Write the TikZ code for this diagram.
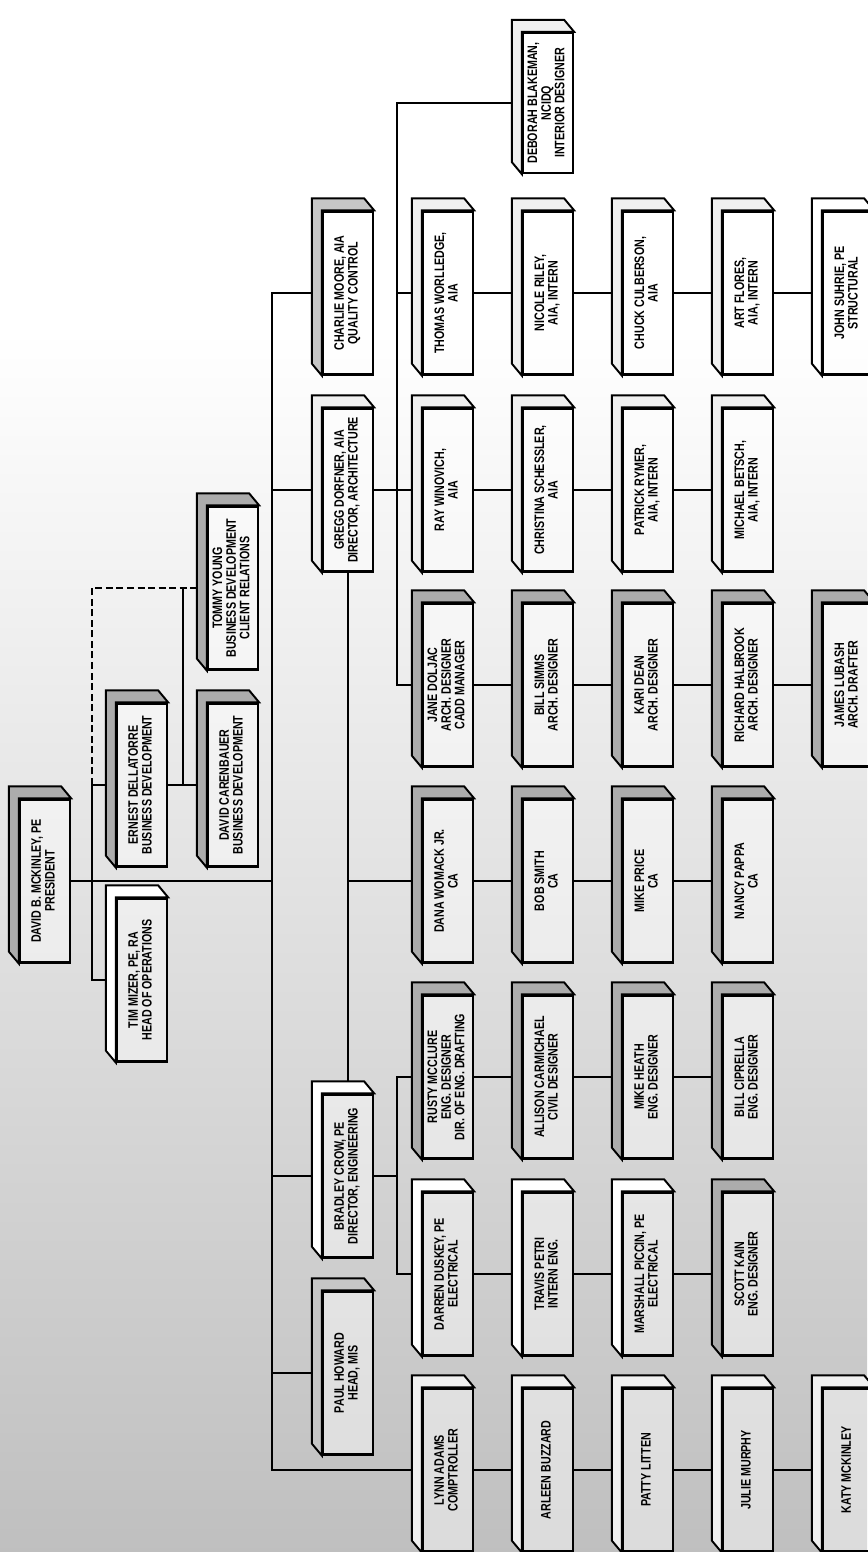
\documentclass[tikz,border=0pt]{standalone}
\usepackage{fontspec}
\setmainfont{Liberation Sans}[FakeStretch=0.78]
\usepackage{graphicx}
\usetikzlibrary{backgrounds}

\colorlet{scuro}{gray!65}
\colorlet{medio}{gray!45}
\colorlet{chiaro}{gray!12}

% testo ruotato nelle caselle
\newcommand{\testo}[1]{\rotatebox{90}{\begin{tabular}{@{}c@{}}#1\end{tabular}}}

\begin{document}
\begin{tikzpicture}[x = 0.2mm, y = -0.2mm,
    persona/.style = {draw, line width=1.3pt, fill=white, fill opacity=0.45, text opacity=1,
        minimum width=1cm, minimum height=3.26cm, inner sep=0pt,
        font=\fontsize{7.8}{7.6}\selectfont\bfseries},
    linea/.style = {line width=1.1pt},
    tratteggio/.style = {line width=0.9pt, dash pattern=on 4pt off 2pt},
    fianco/.style = {line width=1.1pt}]

    % Sfondo
    \useasboundingbox (0,0) rectangle (867,1552);

    % Vertice
    \node[persona] (mckinley) at (45,881) {\testo{DAVID B. MCKINLEY, PE\\PRESIDENT}};
    \node[persona] (mizer) at (142,980) {\testo{TIM MIZER, PE, RA\\HEAD OF OPERATIONS}};
    \node[persona] (dellatorre) at (142,785) {\testo{ERNEST DELLATORRE\\BUSINESS DEVELOPMENT}};
    \node[persona] (carenbauer) at (233,785) {\testo{DAVID CARENBAUER\\BUSINESS DEVELOPMENT}};
    \node[persona] (young) at (233,588) {\testo{TOMMY YOUNG\\BUSINESS DEVELOPMENT\\CLIENT RELATIONS}};

    % Direttori
    \node[persona] (moore) at (348,293) {\testo{CHARLIE MOORE, AIA\\QUALITY CONTROL}};
    \node[persona] (dorfner) at (348,490) {\testo{GREGG DORFNER, AIA\\DIRECTOR, ARCHITECTURE}};
    \node[persona] (crow) at (348,1176) {\testo{BRADLEY CROW, PE\\DIRECTOR, ENGINEERING}};
    \node[persona] (howard) at (348,1373) {\testo{PAUL HOWARD\\HEAD, MIS}};

    % Architettura
    \node[persona, minimum height=2.8cm] (blakeman) at (548,103) {\testo{DEBORAH BLAKEMAN,\\NCIDQ\\INTERIOR DESIGNER}};
    \node[persona] (worlledge) at (448,293) {\testo{THOMAS WORLLEDGE,\\AIA}};
    \node[persona] (riley) at (548,293) {\testo{NICOLE RILEY,\\AIA, INTERN}};
    \node[persona] (culberson) at (648,293) {\testo{CHUCK CULBERSON,\\AIA}};
    \node[persona] (flores) at (748,293) {\testo{ART FLORES,\\AIA, INTERN}};
    \node[persona] (suhrie) at (848,293) {\testo{JOHN SUHRIE, PE\\STRUCTURAL}};
    \node[persona] (winovich) at (448,490) {\testo{RAY WINOVICH,\\AIA}};
    \node[persona] (schessler) at (548,490) {\testo{CHRISTINA SCHESSLER,\\AIA}};
    \node[persona] (rymer) at (648,490) {\testo{PATRICK RYMER,\\AIA, INTERN}};
    \node[persona] (betsch) at (748,490) {\testo{MICHAEL BETSCH,\\AIA, INTERN}};
    \node[persona] (doljac) at (448,685) {\testo{JANE DOLJAC\\ARCH. DESIGNER\\CADD MANAGER}};
    \node[persona] (simms) at (548,685) {\testo{BILL SIMMS\\ARCH. DESIGNER}};
    \node[persona] (dean) at (648,685) {\testo{KARI DEAN\\ARCH. DESIGNER}};
    \node[persona] (halbrook) at (748,685) {\testo{RICHARD HALBROOK\\ARCH. DESIGNER}};
    \node[persona] (lubash) at (848,685) {\testo{JAMES LUBASH\\ARCH. DRAFTER}};

    % CA
    \node[persona] (womack) at (448,881) {\testo{DANA WOMACK JR.\\CA}};
    \node[persona] (smith) at (548,881) {\testo{BOB SMITH\\CA}};
    \node[persona] (price) at (648,881) {\testo{MIKE PRICE\\CA}};
    \node[persona] (pappa) at (748,881) {\testo{NANCY PAPPA\\CA}};

    % Ingegneria
    \node[persona] (mcclure) at (448,1077) {\testo{RUSTY MCCLURE\\ENG. DESIGNER\\DIR. OF ENG. DRAFTING}};
    \node[persona] (carmichael) at (548,1077) {\testo{ALLISON CARMICHAEL\\CIVIL DESIGNER}};
    \node[persona] (heath) at (648,1077) {\testo{MIKE HEATH\\ENG. DESIGNER}};
    \node[persona] (cipriella) at (748,1077) {\testo{BILL CIPRELLA\\ENG. DESIGNER}};
    \node[persona] (duskey) at (448,1274) {\testo{DARREN DUSKEY, PE\\ELECTRICAL}};
    \node[persona] (petri) at (548,1274) {\testo{TRAVIS PETRI\\INTERN ENG.}};
    \node[persona] (piccin) at (648,1274) {\testo{MARSHALL PICCIN, PE\\ELECTRICAL}};
    \node[persona] (kain) at (748,1274) {\testo{SCOTT KAIN\\ENG. DESIGNER}};

    % Amministrazione
    \node[persona] (adams) at (448,1470) {\testo{LYNN ADAMS\\COMPTROLLER}};
    \node[persona] (buzzard) at (548,1470) {\testo{ARLEEN BUZZARD}};
    \node[persona] (litten) at (648,1470) {\testo{PATTY LITTEN}};
    \node[persona] (murphy) at (748,1470) {\testo{JULIE MURPHY}};
    \node[persona] (mckinleyk) at (848,1470) {\testo{KATY MCKINLEY}};

    % Fianchi in rilievo
    \foreach \n/\c in {mckinley/scuro, dellatorre/scuro, carenbauer/scuro, young/scuro,
        mcclure/scuro, carmichael/scuro, heath/scuro, cipriella/scuro, kain/scuro,
        womack/scuro, smith/scuro, price/scuro, pappa/scuro,
        doljac/scuro, simms/scuro, dean/scuro, halbrook/scuro, lubash/scuro,
        moore/medio, howard/medio,
        dorfner/chiaro, winovich/chiaro, schessler/chiaro, rymer/chiaro, betsch/chiaro,
        worlledge/chiaro, riley/chiaro, culberson/chiaro, flores/chiaro, blakeman/chiaro,
        adams/chiaro, buzzard/chiaro, litten/chiaro, murphy/chiaro, mckinleyk/chiaro,
        mizer/white, crow/white, duskey/white, petri/white, piccin/white, suhrie/white}
        \draw[fianco, fill=\c] (\n.north east) -- ++(-10,-12)
            -- ([shift={(-10,-12)}]\n.north west) -- ([shift={(-10,-12)}]\n.south west)
            -- (\n.south west) -- (\n.north west) -- cycle;

    % Collegamenti
    \coordinate (tronco) at (272,0);
    \coordinate (ramo) at (397,0);
    \coordinate (nodo) at (92,0);
    \coordinate (ponte) at (183,0);
    \begin{scope}[on background layer]
        \shade[top color=white, middle color=gray!22, bottom color=gray!50] (0,330) rectangle (867,1552);
        \fill[white] (0,0) rectangle (867,330);

        % Tronco principale
        \draw[linea] (moore.west) -- (moore -| tronco) -- (adams -| tronco) -- (adams.west);
        \draw[linea] (dorfner -| tronco) -- (dorfner.west);
        \draw[linea] (mckinley.east) -- (mckinley -| tronco);
        \draw[linea] (crow -| tronco) -- (crow.west);
        \draw[linea] (howard -| tronco) -- (howard.west);

        % Staff del presidente
        \draw[linea] (dellatorre.west) -- (dellatorre -| nodo) -- (mizer -| nodo) -- (mizer.west);
        \draw[linea] (dellatorre.east) -- (carenbauer.west);
        \draw[tratteggio] (dellatorre -| nodo) -- (young -| nodo) -- (young.west);
        \draw[line width=0.7pt] (young -| ponte) -- (carenbauer -| ponte);

        % Architettura
        \draw[linea] (blakeman.west) -- (blakeman -| ramo) -- (doljac -| ramo) -- (doljac.west);
        \draw[linea] (dorfner.east) -- (winovich.west);
        \draw[linea] (worlledge -| ramo) -- (worlledge.west);
        \draw[linea] (dorfner.south) -- (crow.north);
        \draw[linea] (womack -| dorfner) -- (womack.west);

        % Ingegneria
        \draw[linea] (mcclure.west) -- (mcclure -| ramo) -- (duskey -| ramo) -- (duskey.west);
        \draw[linea] (crow.east) -- (crow -| ramo);

        % Catene orizzontali
        \foreach \a/\b in {worlledge/riley, riley/culberson, culberson/flores, flores/suhrie,
            winovich/schessler, schessler/rymer, rymer/betsch,
            doljac/simms, simms/dean, dean/halbrook, halbrook/lubash,
            womack/smith, smith/price, price/pappa,
            mcclure/carmichael, carmichael/heath, heath/cipriella,
            duskey/petri, petri/piccin, piccin/kain,
            adams/buzzard, buzzard/litten, litten/murphy, murphy/mckinleyk}
            \draw[linea] (\a.east) -- (\b.west);
    \end{scope}

\end{tikzpicture}
\end{document}
